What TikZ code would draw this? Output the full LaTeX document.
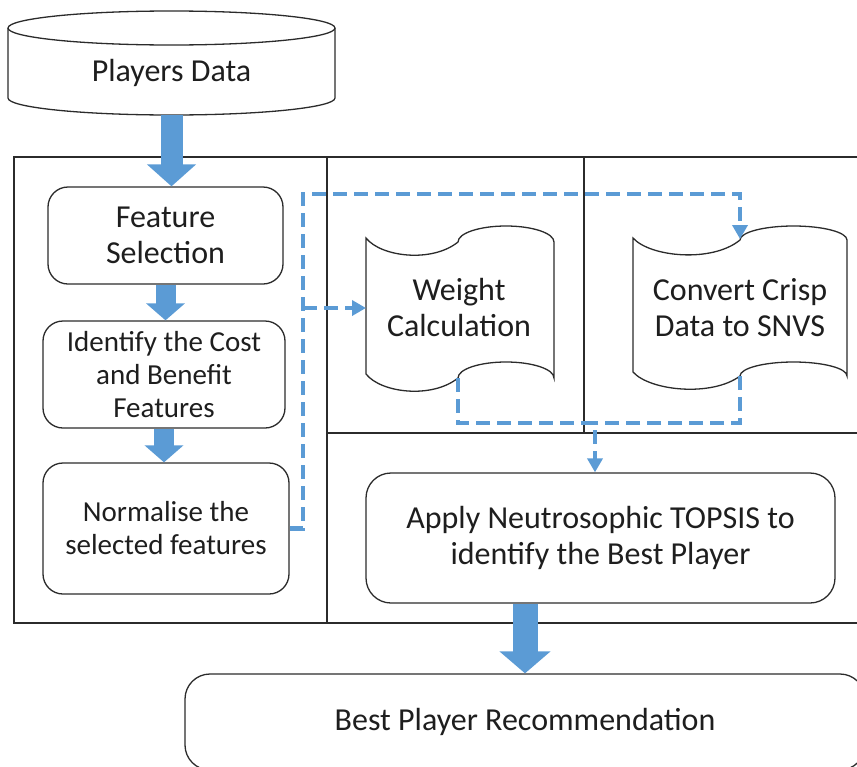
\documentclass[tikz,border=0pt]{standalone}
\usepackage{fontspec}
\setmainfont{Carlito}
\usetikzlibrary{arrows.meta,calc}
\definecolor{flowblue}{HTML}{5B9BD5}
\definecolor{ink}{HTML}{2B2B2B}
\definecolor{txtcol}{HTML}{1E1E1E}

\begin{document}
\begin{tikzpicture}[x=1pt,y=-1pt,
  box/.style={draw=ink, line width=1.3pt, rounded corners=20pt, inner sep=0pt},
  txt/.style={font=\fontsize{32}{36}\selectfont, text=txtcol, align=center},
  smalltxt/.style={font=\fontsize{29}{33}\selectfont, text=txtcol, align=center},
  outline/.style={draw=ink, line width=1.3pt},
  frameline/.style={draw=ink, line width=1.8pt},
  bigarrow/.style n args={3}{draw=flowblue, line width=#1,
      -{Triangle[length=#2,width=#3]}},
  flow/.style={draw=flowblue, line width=4.5pt, dash pattern=on 14pt off 7pt,
      line join=miter},
  flowtip/.style={flow, -{Triangle[length=14pt,width=15pt]}}
]
\useasboundingbox (0,0) rectangle (857,766);
\clip (0,0) rectangle (857,766);

% data store (cylinder)
\draw[outline] (8,28) -- (8,98) arc[start angle=180,end angle=0,x radius=163.5,y radius=17] -- (335,28);
\draw[outline] (171.5,28) ellipse[x radius=163.5,y radius=17];
\node[txt] (data) at (171.5,73) {Players Data};
\coordinate (databot) at (171.5,115);

% frame with its compartments
\draw[frameline] (870,157) -- (14,157) -- (14,623) -- (870,623);
\draw[frameline] (327,157) -- (327,623);
\draw[frameline] (584,157) -- (584,433);
\draw[frameline] (327,433) -- (870,433);

% left column steps
\node[box, minimum width=235pt, minimum height=97pt, txt] (feat) at (165.5,235.5) {Feature\\Selection};
\node[box, minimum width=242pt, minimum height=107pt, smalltxt] (ident) at (164,374.5) {Identify the Cost\\and Benefit\\Features};
\node[box, minimum width=246pt, minimum height=131pt, smalltxt] (norm) at (166,528.5) {Normalise the\\selected features};

% punched-tape shapes
\draw[outline, fill=white] (366,238) .. controls (381,257) and (432,263) .. (458,242)
  arc[start angle=180,end angle=360,x radius=48,y radius=16] -- (554,378)
  arc[start angle=360,end angle=180,x radius=48,y radius=16]
  .. controls (432,399) and (381,393) .. (366,374) -- cycle;
\node[txt] (weight) at (459,308) {Weight\\Calculation};
\coordinate (wL) at (366,308);
\coordinate (wB) at (458,378);

\draw[outline, fill=white] (633,238) .. controls (650,257) and (712,263) .. (740,240)
  arc[start angle=180,end angle=360,x radius=53.5,y radius=14] -- (847,376)
  arc[start angle=360,end angle=180,x radius=53.5,y radius=14]
  .. controls (712,397) and (650,391) .. (633,372) -- cycle;
\node[txt] (convert) at (740,308) {Convert Crisp\\Data to SNVS};
\coordinate (cT) at (740,239);
\coordinate (cB) at (740,376);

% right-hand steps
\node[box, rounded corners=25pt, minimum width=469pt, minimum height=130pt, txt] (apply) at (600.5,538) {Apply Neutrosophic TOPSIS to\\identify the Best Player};
\node[box, rounded corners=25pt, minimum width=680pt, minimum height=96pt, txt] (best) at (525,722) {Best Player Recommendation};

% main flow arrows
\draw[bigarrow={22pt}{22pt}{48pt}] (databot) -- (databot |- feat.north);
\draw[bigarrow={20pt}{17pt}{38pt}] (feat.south) -- (feat.south |- ident.north);
\draw[bigarrow={20pt}{17pt}{38pt}] (ident.south) -- (ident.south |- norm.north);
\draw[bigarrow={25pt}{22pt}{50pt}] (best.north |- apply.south) -- (best.north);

% dashed data flows
\coordinate (split) at (303,308);
\coordinate (join) at (595,423);
\draw[flowtip] (norm.east) -| (303,194) -| (cT);
\draw[flowtip] (split) -- (wL);
\draw[flow] (cB) |- (join);
\draw[flowtip] (wB) |- (join) -- (join |- apply.north);
\end{tikzpicture}
\end{document}
